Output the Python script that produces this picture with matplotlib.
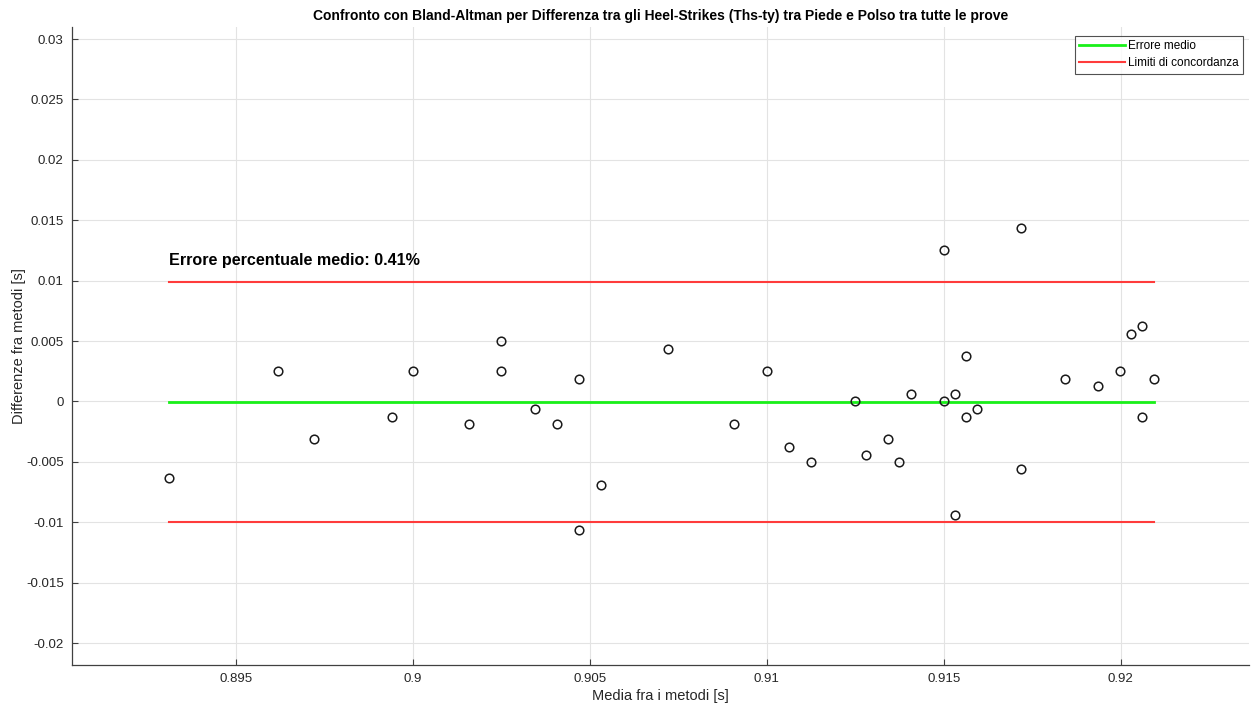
import matplotlib.pyplot as plt
from matplotlib.ticker import FuncFormatter
import numpy as np

plt.rcParams['font.family'] = ['Liberation Sans', 'DejaVu Sans']

# media tra i due metodi [s]
media = [0.8931, 0.8962, 0.8972, 0.8994, 0.9000, 0.9016, 0.9025, 0.9025,
         0.90345, 0.90407, 0.90469, 0.90469, 0.90532, 0.9072, 0.90907, 0.9100,
         0.91063, 0.91125, 0.9125, 0.91281, 0.91343, 0.91375, 0.91407, 0.9150,
         0.9150, 0.91531, 0.91531, 0.91563, 0.91563, 0.91594, 0.91718, 0.91718,
         0.91843, 0.91937, 0.91999, 0.9203, 0.92061, 0.92061, 0.92093]
# differenza tra i due metodi [s]
diff = [-0.0063, 0.0025, -0.0031, -0.0013, 0.0025, -0.0019, 0.0050, 0.0025,
        -0.00065, -0.0019, 0.00186, -0.01065, -0.0069, 0.00437, -0.0019, 0.0025,
        -0.0038, -0.0050, 0.0, -0.0044, -0.0031, -0.0050, 0.00062, 0.0125,
        0.0, 0.00062, -0.0094, 0.00374, -0.00126, -0.00062, 0.0144, -0.0056,
        0.00186, 0.00126, 0.0025, 0.0056, 0.00625, -0.00126, 0.00186]

errore_medio = -0.00003
lim_sup = 0.00993
lim_inf = -0.00998
errore_perc = 0.41

fig = plt.figure(figsize=(12.52, 7.11), dpi=100)
ax = fig.add_axes([0.0575, 0.065, 0.9405, 0.897])

x0, x1 = min(media), max(media)
ax.plot([x0, x1], [errore_medio, errore_medio], color='#19f019', lw=2,
        label='Errore medio')
ax.plot([x0, x1], [lim_sup, lim_sup], color='#ff3b3b', lw=1.5,
        label='Limiti di concordanza')
ax.plot([x0, x1], [lim_inf, lim_inf], color='#ff3b3b', lw=1.5)
ax.plot(media, diff, 'o', mfc='none', mec='#1a1a1a', mew=1.1, ms=6.2,
        linestyle='none')

ax.text(x0, lim_sup + 0.0011, 'Errore percentuale medio: %.2f%%' % errore_perc,
        fontsize=11.6, fontweight='bold', color='black', va='bottom', ha='left')

ax.set_xlim(0.89037, 0.92364)
ax.set_ylim(-0.0218, 0.031)
ax.set_xticks(np.arange(0.895, 0.9201, 0.005))
ax.set_yticks(np.arange(-0.02, 0.0301, 0.005))
fmt = FuncFormatter(lambda v, p: '%g' % round(v, 4) if abs(v) > 1e-9 else '0')
ax.xaxis.set_major_formatter(fmt)
ax.yaxis.set_major_formatter(fmt)

ax.grid(True, color='#e3e3e3', lw=0.8)
ax.set_axisbelow(True)
for s in ['top', 'right']:
    ax.spines[s].set_visible(False)
for s in ['left', 'bottom']:
    ax.spines[s].set_color('#404040')
    ax.spines[s].set_linewidth(0.9)
ax.tick_params(direction='in', length=4, width=0.8, color='#404040',
               labelsize=9.5, labelcolor='#262626', pad=6)

ax.set_xlabel('Media fra i metodi [s]', fontsize=10.5, color='#262626', labelpad=3)
ax.set_ylabel('Differenze fra metodi [s]', fontsize=10.5, color='#262626', labelpad=0)
ax.set_title('Confronto con Bland-Altman per Differenza tra gli Heel-Strikes (Ths-ty) tra Piede e Polso tra tutte le prove',
             fontsize=10, fontweight='bold', pad=5)

leg = ax.legend(loc='upper right', fontsize=8.5, frameon=True, fancybox=False,
                edgecolor='#262626', handlelength=3.9, borderaxespad=0,
                borderpad=0.35, labelspacing=0.45, handletextpad=0.3,
                bbox_to_anchor=(0.9945, 0.986))
leg.get_frame().set_linewidth(0.8)

fig.savefig('out.png', dpi=100)
